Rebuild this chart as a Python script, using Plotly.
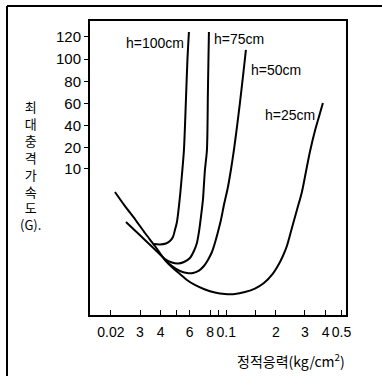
import plotly.graph_objects as go

# Static stress (kg/cm^2) and max shock acceleration (G).
# The drawn G scale is linear from 20 to 120; below it is unlabeled, values are
# extrapolated along that same linear scale.
h25_x = [0.02115, 0.02432, 0.02796, 0.03214, 0.03696, 0.0425, 0.04752, 0.05238, 0.05776,
         0.06456, 0.07426, 0.08536, 0.09818, 0.1129, 0.1298, 0.1492, 0.1692, 0.1918,
         0.2086, 0.2205, 0.2332, 0.25, 0.2682, 0.2876, 0.304, 0.3214, 0.3447, 0.3645, 0.3854]
h25_y = [-19.6, -32.3, -44.0, -56.6, -68.3, -80.9, -88.1, -93.5, -98.9,
         -103.4, -107.5, -110.2, -111.5, -111.5, -109.7, -106.6, -101.6, -93.1,
         -84.5, -77.3, -68.3, -52.1, -35.9, -19.6, -1.6, 16.4, 35.3, 47.9, 60.5]

h50_x = [0.0425, 0.04686, 0.05238, 0.05776, 0.0628, 0.0683, 0.07322, 0.07744, 0.08188,
         0.08536, 0.08904, 0.09284, 0.0968, 0.1024, 0.1067, 0.1113, 0.1161, 0.121, 0.1262, 0.1316]
h50_y = [-80.9, -86.3, -90.8, -92.6, -92.6, -90.4, -86.3, -80.9, -73.7,
         -65.6, -55.7, -44.9, -31.4, -15.1, 0.2, 18.2, 38.9, 60.5, 84.0, 108.3]

h75_x = [0.02466, 0.02796, 0.03214, 0.03696, 0.0425, 0.04686, 0.05094, 0.0554, 0.06024,
         0.06368, 0.0664, 0.0683, 0.07022, 0.07222, 0.07322, 0.07426, 0.07636, 0.07744, 0.07852]
h75_y = [-46.7, -54.3, -62.9, -71.4, -80.0, -83.2, -84.1, -82.7, -79.1,
         -72.8, -65.6, -55.7, -42.2, -26.8, -13.3, 0.2, 18.2, 72.3, 124.5]

h100_x = [0.03594, 0.03964, 0.04309, 0.04558, 0.04752, 0.04886, 0.05024, 0.05238, 0.05386,
          0.0554, 0.05696, 0.05816, 0.0594]
h100_y = [-66.5, -66.9, -66.0, -63.8, -60.2, -53.9, -46.7, -24.1, -4.3,
          18.2, 63.2, 99.3, 124.5]

series_names = ["h=100cm", "h=75cm", "h=50cm", "h=25cm"]
series_x = [h100_x, h75_x, h50_x, h25_x]
series_y = [h100_y, h75_y, h50_y, h25_y]

x_tick_vals = [0.02, 0.03, 0.04, 0.06, 0.08, 0.1, 0.2, 0.3, 0.4, 0.5]
x_tick_text = ["0.02", "3", "4", "6", "8", "0.1", "2", "3", "4", "0.5"]
x_minor_vals = [0.05, 0.09, 0.15]
y_tick_vals = [1.08, 20, 40, 60, 80, 100, 120]
y_tick_text = ["10", "20", "40", "60", "80", "100", "120"]

y_title = "최<br>대<br>충<br>격<br>가<br>속<br>도<br>(G)."
x_title = "정적응력(kg/cm<sup>2</sup>)"

SANS = "Liberation Sans, Arial, sans-serif"
KR = "Noto Sans CJK KR, sans-serif"

fig = go.Figure()
for name, xs, ys in zip(series_names, series_x, series_y):
    fig.add_trace(go.Scatter(x=xs, y=ys, mode="lines", name=name,
                             line=dict(color="black", width=2, shape="spline", smoothing=0.8),
                             showlegend=False, hoverinfo="skip"))

W, H = 382, 376
L, R, T, B = 90, 36, 21, 61
pw, ph = W - L - R, H - T - B

def px(x):
    return (x - L) / pw

def py(y):
    return (H - B - y) / ph

# curve labels
label_pos = [(155, 43), (239, 39), (276, 70), (290, 115)]
for name, (lx, ly) in zip(series_names, label_pos):
    fig.add_annotation(x=px(lx), y=py(ly), xref="paper", yref="paper", text=name,
                       xanchor="center", yanchor="middle", showarrow=False,
                       font=dict(family=SANS, size=14, color="black"))

# vertical y-axis title
fig.add_annotation(x=px(30), y=py(165), xref="paper", yref="paper", text=y_title,
                   xanchor="center", yanchor="middle", align="center", showarrow=False,
                   font=dict(family=KR, size=13, color="black"))

fig.add_annotation(x=px(291), y=py(360), xref="paper", yref="paper", text=x_title,
                   xanchor="center", yanchor="middle", showarrow=False,
                   font=dict(family=KR, size=14, color="black"))

# outer frame (left and top)
fig.add_shape(type="line", xref="paper", yref="paper", x0=px(7), x1=px(7), y0=py(376), y1=py(6),
              line=dict(color="black", width=2))
fig.add_shape(type="line", xref="paper", yref="paper", x0=px(7), x1=px(382), y0=py(6), y1=py(6),
              line=dict(color="black", width=2))

fig.update_xaxes(type="log", range=[-1.826, -0.274], tickvals=x_tick_vals, ticktext=x_tick_text,
                 tickangle=0, ticks="inside", ticklen=5, tickwidth=1, tickcolor="black",
                 ticklabelstandoff=3,
                 minor=dict(tickvals=x_minor_vals, ticks="inside", ticklen=5, tickcolor="black"),
                 showline=True, linecolor="black", linewidth=2, mirror=True, showgrid=False,
                 zeroline=False, tickfont=dict(family=SANS, size=14, color="black"))
fig.update_yaxes(range=[-130.45, 134.4], tickvals=y_tick_vals, ticktext=y_tick_text,
                 ticks="outside", ticklen=4, tickwidth=1, tickcolor="black",
                 showline=True, linecolor="black", linewidth=2, mirror=True, showgrid=False,
                 zeroline=False, tickfont=dict(family=SANS, size=15, color="black"))

fig.update_layout(width=W, height=H, margin=dict(l=L, r=R, t=T, b=B, autoexpand=False),
                  paper_bgcolor="white", plot_bgcolor="white")

fig.write_html("out.html")
